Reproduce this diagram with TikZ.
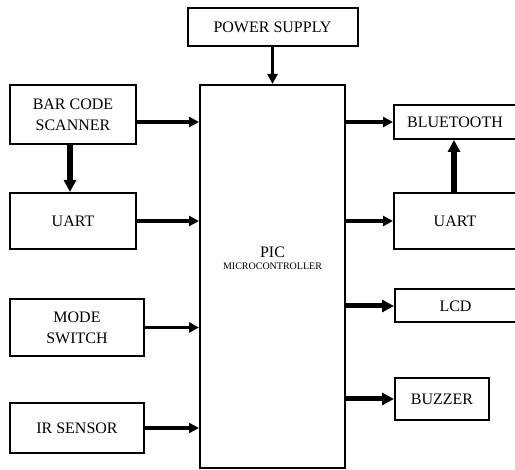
\documentclass[tikz,border=0pt]{standalone}
\usepackage{fontspec}
\setmainfont{Liberation Serif}
\usetikzlibrary{arrows.meta}
\tikzset{
  blk/.style={draw, line width=2pt, inner sep=0pt, align=center, font=\fontsize{16}{21}\selectfont},
  arr/.style={line width=3.5pt, -{Triangle[length=10pt,width=10pt]}},
  arrm/.style={line width=5pt, -{Triangle[length=12pt,width=12pt]}},
  arrb/.style={line width=6.5pt, -{Triangle[length=12pt,width=12pt]}},
}
\begin{document}
\begin{tikzpicture}[x=1pt,y=-1pt]
        \useasboundingbox (0,0) rectangle (515,470);
        \clip (0,0) rectangle (515,470);
        % ブロックの配置
        \node[blk, minimum width=170, minimum height=38] (pwr) at (272.5,27) {POWER SUPPLY};
        \node[blk, minimum width=145, minimum height=383] (pic) at (272.5,276.5) {};
        \node[align=center, inner sep=0pt] (piclbl) at (272.5,258)
            {\fontsize{16}{16}\selectfont PIC\\\fontsize{10}{12}\selectfont MICROCONTROLLER};
        \node[blk, minimum width=126, minimum height=59] (bcs) at (73,114.5) {BAR CODE\\SCANNER};
        \node[blk, minimum width=126, minimum height=56] (uartL) at (73,221) {UART};
        \node[blk, minimum width=134, minimum height=57] (mode) at (77,327.5) {MODE\\SWITCH};
        \node[blk, minimum width=134, minimum height=50] (ir) at (77,428) {IR SENSOR};
        \node[blk, minimum width=122, minimum height=34] (bt) at (455,122) {BLUETOOTH};
        \node[blk, minimum width=122, minimum height=56] (uartR) at (455,221) {UART};
        \node[blk, minimum width=121, minimum height=33] (lcd) at (455.5,306) {LCD};
        \node[blk, minimum width=94, minimum height=42] (buz) at (442,399) {BUZZER};
        % 入力側の矢印
        \draw[arr] (pwr.south) -- (pic.north);
        \draw[arr] ([yshift=-7.5pt]bcs.east) -- ([yshift=154.5pt]pic.west);
        \draw[arr] (uartL.east) -- ([yshift=55.5pt]pic.west);
        \draw[arr] (mode.east) -- ([yshift=-51pt]pic.west);
        \draw[arr] (ir.east) -- ([yshift=-151.5pt]pic.west);
        \draw[arrb] ([xshift=-3pt]bcs.south) -- ([xshift=-3pt]uartL.north);
        % 出力側の矢印
        \draw[arr] ([yshift=154.5pt]pic.east) -- (bt.west);
        \draw[arr] ([yshift=55.5pt]pic.east) -- (uartR.west);
        \draw[arrm] ([yshift=-29.5pt]pic.east) -- (lcd.west);
        \draw[arrm] ([yshift=-122.5pt]pic.east) -- (buz.west);
        \draw[arrb] ([xshift=-1pt]uartR.north) -- ([xshift=-1pt]bt.south);
    \end{tikzpicture}
\end{document}
